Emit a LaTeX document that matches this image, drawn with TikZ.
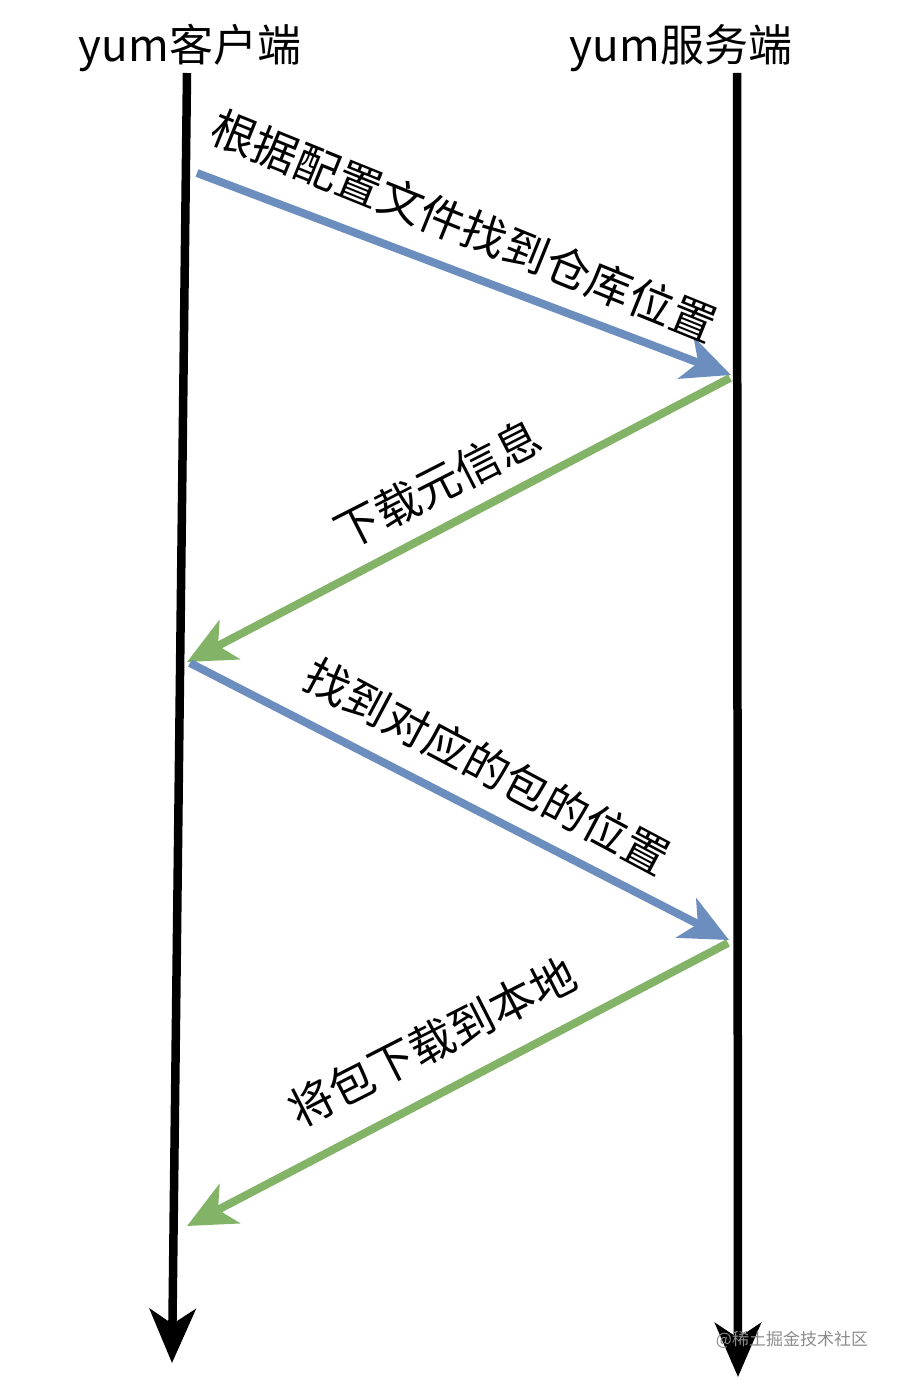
\documentclass[tikz,border=0pt]{standalone}
\usepackage{fontspec}
\usepackage{tikz}
\usetikzlibrary{arrows.meta}
\newfontfamily\cjk{Noto Sans CJK SC}
\definecolor{msgblue}{HTML}{6C8EBF}
\definecolor{msggreen}{HTML}{82B366}

\begin{document}
\begin{tikzpicture}[x=1pt, y=-1pt,
  life/.style={line width=8.5pt, -{Stealth[length=54pt, width=46pt, inset=15pt]}},
  req/.style={line width=8pt, msgblue, -{Stealth[length=48pt, width=44pt, inset=13pt]}},
  resp/.style={line width=8pt, msggreen, -{Stealth[length=48pt, width=44pt, inset=13pt]}},
  msg/.style={font=\cjk\fontsize{45}{45}\selectfont, inner sep=0pt}]

\useasboundingbox (0,0) rectangle (902,1380);

\tikzstyle{every node}=[text=black]
\draw    (190, 48)   node[font=\cjk\fontsize{44}{44}\selectfont] (cli) {yum客户端}
         (681, 48)   node[font=\cjk\fontsize{44}{44}\selectfont] (srv) {yum服务端};

% lifelines
\coordinate (cli0) at (187, 73);
\coordinate (cli1) at (172, 1363);
\coordinate (srv0) at (737, 73);
\coordinate (srv1) at (738, 1377);
\draw[life] (cli0) -- (cli1);
\draw[life] (srv0) -- (srv1);

% messages
\coordinate (a1) at (197, 173);  \coordinate (b1) at (731, 375);
\coordinate (a2) at (730, 378);  \coordinate (b2) at (187, 662);
\coordinate (a3) at (190, 663);  \coordinate (b3) at (729, 940);
\coordinate (a4) at (728, 943);  \coordinate (b4) at (187, 1226);
\draw[req]  (a1) -- (b1);
\draw[resp] (a2) -- (b2);
\draw[req]  (a3) -- (b3);
\draw[resp] (a4) -- (b4);

\node[msg, rotate=-22] (lab1) at (464, 226) {根据配置文件找到仓库位置};
\node[msg, rotate=27]  (lab2) at (438, 484) {下载元信息};
\node[msg, rotate=-28] (lab3) at (487, 766) {找到对应的包的位置};
\node[msg, rotate=27]  (lab4) at (432, 1042) {将包下载到本地};

\node[font=\cjk\fontsize{17}{17}\selectfont, text=black!45] (mark) at (792, 1340) {@稀土掘金技术社区};

\end{tikzpicture}
\end{document}
